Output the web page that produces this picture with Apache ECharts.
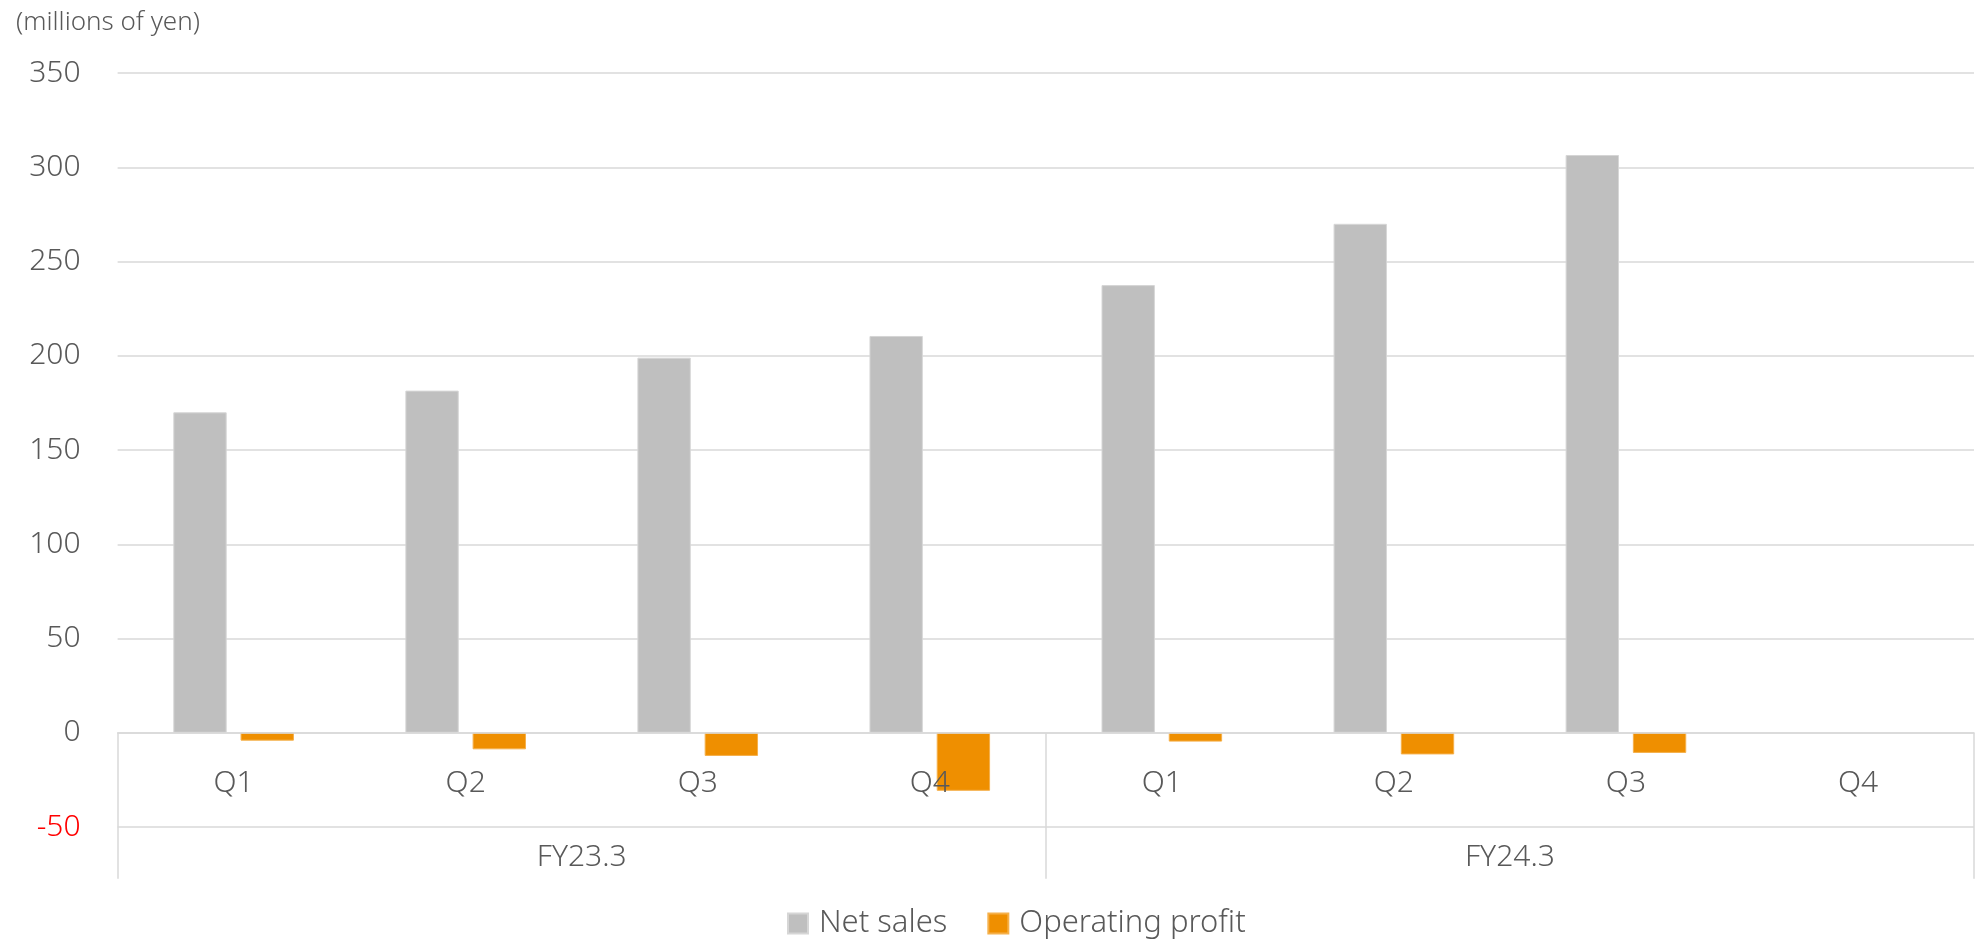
<!DOCTYPE html>
<html>
<head>
<meta charset="utf-8">
<script src="https://cdn.jsdelivr.net/npm/echarts@6/dist/echarts.min.js"></script>
<style>
html,body{margin:0;padding:0;background:#fff;}
#chart{width:1982px;height:939px;}
</style>
</head>
<body>
<div id="chart"></div>
<script>
const quarters = ['Q1','Q2','Q3','Q4','Q1','Q2','Q3','Q4'];
const fiscalYears = ['FY23.3','FY24.3'];
const netSales = [170, 181.5, 199, 210.5, 237.5, 270, 306.5, null];
const operatingProfit = [-4.2, -8.8, -12.3, -30.8, -4.7, -11.5, -10.7, null];
const yTicks = {min: -50, max: 350, interval: 50};
const unitLabel = '(millions of yen)';

const FONT = '"Noto Sans", "Open Sans", sans-serif';
const TXT = '#595959';
const LINE = '#d9d9d9';

const chart = echarts.init(document.getElementById('chart'));
const zeroOffset = -(754 / 8); // distance from grid bottom (-50) to the zero line

chart.setOption({
  animation: false,
  textStyle: {fontFamily: FONT},
  title: {
    text: unitLabel, left: 11, top: 5,
    textStyle: {fontFamily: FONT, fontSize: 26, fontWeight: 300, color: TXT}
  },
  legend: {
    left: 782, top: 903,
    itemWidth: 20, itemHeight: 20, itemGap: 40,
    icon: 'rect',
    textStyle: {fontFamily: FONT, fontSize: 31, fontWeight: 300, color: TXT, padding: [0, 0, 0, 6]},
    data: ['Net sales', 'Operating profit']
  },
  grid: {left: 117.6, right: 8, top: 73, bottom: 112, containLabel: false, outerBoundsMode: 'none'},
  xAxis: [{
    type: 'category', data: quarters,
    position: 'bottom', offset: zeroOffset, z: 5,
    axisLine: {show: true, onZero: false, lineStyle: {color: LINE, width: 1.5}},
    axisTick: {show: false},
    axisLabel: {margin: 36, fontSize: 30, fontWeight: 300, color: TXT, fontFamily: FONT},
    splitLine: {show: false}
  }, {
    type: 'category', data: fiscalYears,
    position: 'bottom', offset: zeroOffset,
    axisLine: {show: false, onZero: false},
    axisTick: {show: true, length: 146, interval: 0, lineStyle: {color: LINE, width: 1.5}},
    axisLabel: {margin: 110, fontSize: 30, fontWeight: 300, color: TXT, fontFamily: FONT},
    splitLine: {show: false}
  }],
  yAxis: {
    type: 'value', min: yTicks.min, max: yTicks.max, interval: yTicks.interval,
    axisLine: {show: false},
    axisTick: {show: false},
    axisLabel: {
      margin: 37, fontSize: 30, fontWeight: 300, fontFamily: FONT,
      color: function (v) { return v < 0 ? '#ff0000' : TXT; }
    },
    splitLine: {lineStyle: {color: LINE, width: 1.5}}
  },
  series: [{
    name: 'Net sales', type: 'bar', xAxisIndex: 0,
    data: netSales, barWidth: '23%', barGap: '26%',
    itemStyle: {color: '#bfbfbf', borderColor: '#d6d6d6', borderWidth: 1}
  }, {
    name: 'Operating profit', type: 'bar', xAxisIndex: 0,
    data: operatingProfit, barWidth: '23%',
    itemStyle: {color: '#ef8f00', borderColor: '#f5b04a', borderWidth: 1}
  }]
});
</script>
</body>
</html>
